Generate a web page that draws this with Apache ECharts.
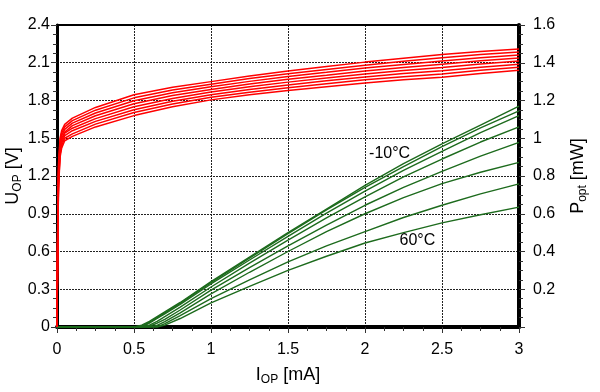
<!DOCTYPE html>
<html><head><meta charset="utf-8">
<script src="https://cdn.jsdelivr.net/npm/echarts@6/dist/echarts.min.js"></script>
<style>html,body{margin:0;padding:0;background:#fff}#c{width:600px;height:392px}</style>
</head><body><div id="c"></div>
<script>
// X values (I_OP, mA) for the red U_OP curves
const I_RED = [0, 0.005, 0.01, 0.02, 0.03, 0.05, 0.1, 0.25, 0.5, 0.75, 1, 1.25, 1.5, 1.75, 2, 2.25, 2.5, 2.75, 3];
// U_OP [V] per temperature (-10..60 °C)
const U_m10 = [0, 0.90, 1.30, 1.50, 1.56, 1.61, 1.66, 1.745, 1.845, 1.905, 1.950, 1.995, 2.035, 2.070, 2.105, 2.135, 2.165, 2.190, 2.210];
const U_0   = [0, 0.87, 1.27, 1.48, 1.54, 1.59, 1.64, 1.723, 1.821, 1.883, 1.929, 1.974, 2.013, 2.047, 2.081, 2.111, 2.139, 2.165, 2.186];
const U_10  = [0, 0.84, 1.24, 1.46, 1.52, 1.57, 1.62, 1.701, 1.798, 1.861, 1.909, 1.952, 1.991, 2.024, 2.058, 2.086, 2.114, 2.140, 2.161];
const U_20  = [0, 0.81, 1.21, 1.44, 1.50, 1.55, 1.60, 1.679, 1.774, 1.839, 1.888, 1.931, 1.969, 2.001, 2.034, 2.062, 2.088, 2.115, 2.137];
const U_30  = [0, 0.79, 1.19, 1.41, 1.48, 1.54, 1.58, 1.656, 1.751, 1.816, 1.867, 1.909, 1.946, 1.979, 2.011, 2.038, 2.062, 2.090, 2.113];
const U_40  = [0, 0.76, 1.16, 1.39, 1.46, 1.52, 1.56, 1.634, 1.727, 1.794, 1.846, 1.888, 1.924, 1.956, 1.987, 2.014, 2.036, 2.065, 2.089];
const U_50  = [0, 0.73, 1.13, 1.37, 1.44, 1.50, 1.535, 1.612, 1.704, 1.772, 1.826, 1.866, 1.902, 1.933, 1.964, 1.989, 2.011, 2.040, 2.064];
const U_60  = [0, 0.70, 1.10, 1.35, 1.42, 1.48, 1.515, 1.590, 1.680, 1.750, 1.805, 1.845, 1.880, 1.910, 1.940, 1.965, 1.985, 2.015, 2.040];

// X values for the green P_opt curves
const I_GRN = [0, 0.5, 0.55, 0.6, 0.65, 0.7, 0.8, 1.0, 1.25, 1.5, 1.75, 2.0, 2.25, 2.5, 2.75, 3.0];
// P_opt [mW] per temperature
const P_m10 = [0, 0, 0.010, 0.030, 0.055, 0.080, 0.130, 0.240, 0.370, 0.500, 0.625, 0.750, 0.865, 0.970, 1.070, 1.170];
const P_0   = [0, 0, 0.005, 0.025, 0.050, 0.075, 0.125, 0.235, 0.365, 0.495, 0.620, 0.740, 0.850, 0.955, 1.055, 1.145];
const P_10  = [0, 0, 0,     0.020, 0.045, 0.070, 0.120, 0.228, 0.355, 0.480, 0.603, 0.720, 0.830, 0.930, 1.030, 1.120];
const P_20  = [0, 0, 0,     0.010, 0.030, 0.055, 0.105, 0.212, 0.338, 0.460, 0.578, 0.690, 0.795, 0.890, 0.980, 1.060];
const P_30  = [0, 0, 0,     0.005, 0.020, 0.040, 0.090, 0.195, 0.315, 0.430, 0.540, 0.645, 0.740, 0.825, 0.905, 0.978];
const P_40  = [0, 0, 0,     0,     0.008, 0.028, 0.075, 0.175, 0.290, 0.400, 0.505, 0.600, 0.685, 0.760, 0.820, 0.872];
const P_50  = [0, 0, 0,     0,     0,     0.018, 0.060, 0.150, 0.250, 0.345, 0.430, 0.505, 0.580, 0.645, 0.705, 0.758];
const P_60  = [0, 0, 0,     0,     0,     0.010, 0.045, 0.128, 0.215, 0.300, 0.375, 0.445, 0.500, 0.552, 0.595, 0.635];

const TEMPS = ['-10', '0', '10', '20', '30', '40', '50', '60'];
const U_CURVES = [U_m10, U_0, U_10, U_20, U_30, U_40, U_50, U_60];
const P_CURVES = [P_m10, P_0, P_10, P_20, P_30, P_40, P_50, P_60];

// annotation labels
const ANNOT = [
  { text: '-10°C', at: [2.16, 0.92] },
  { text: '60°C', at: [2.34, 0.46] }
];

const FONT = '"Liberation Sans", Arial, sans-serif';
const zip = (xs, ys) => xs.map((x, i) => [x, ys[i]]);
const fmt = v => String(+(+v).toFixed(2));

const series = [];
U_CURVES.forEach((u, k) => series.push({
  name: 'U ' + TEMPS[k], type: 'line', xAxisIndex: 0, yAxisIndex: 0, showSymbol: false, symbol: 'none',
  smooth: false,
  lineStyle: { color: '#ff0000', width: 1.5 }, data: zip(I_RED, u), z: 4
}));
P_CURVES.forEach((p, k) => series.push({
  name: 'P ' + TEMPS[k], type: 'line', xAxisIndex: 0, yAxisIndex: 1, showSymbol: false, symbol: 'none',
  smooth: false,
  lineStyle: { color: '#1d6b1d', width: 1.4 }, data: zip(I_GRN, p), z: 3
}));
series.push({
  type: 'scatter', xAxisIndex: 0, yAxisIndex: 1, symbolSize: 0, silent: true,
  itemStyle: { opacity: 1 },
  data: ANNOT.map(a => ({ value: a.at, label: { show: true, formatter: a.text, color: '#000' } })),
  label: { position: 'inside', color: '#000', fontSize: 16, fontFamily: FONT, opacity: 1 },
  z: 5
});

const grid = { left: 57, right: 81, top: 25, bottom: 65, containLabel: false, outerBoundsMode: 'none' };
const splitLine = { show: true, lineStyle: { color: '#222', width: 1, type: [2, 1] } };
const labelStyle = { color: '#000', fontSize: 16, fontFamily: FONT };
const nameRich = {
  a: { fontSize: 18, fontFamily: FONT, color: '#000' },
  b: { fontSize: 12, fontFamily: FONT, color: '#000', padding: [9, 0, 0, 0] }
};
const tick = { show: true, length: 6, lineStyle: { color: '#333' } };
const minor = { show: true, splitNumber: 4, length: 4, lineStyle: { color: '#333' } };

const option = {
  animation: false,
  backgroundColor: '#fff',
  grid,
  xAxis: [{
    type: 'value', min: 0, max: 3, interval: 0.5, position: 'bottom',
    name: '{a|I}{b|OP}{a| [mA]}', nameLocation: 'middle', nameGap: 38,
    nameTextStyle: { rich: nameRich },
    axisLine: { show: true, onZero: false, lineStyle: { color: '#000', width: 4 } },
    axisTick: tick, minorTick: minor,
    splitLine,
    axisLabel: { ...labelStyle, margin: 15, formatter: fmt }
  }, {
    type: 'value', min: 0, max: 3, position: 'top',
    axisLine: { show: true, onZero: false, lineStyle: { color: '#000', width: 2 } },
    axisTick: { show: false }, axisLabel: { show: false }, splitLine: { show: false }
  }],
  yAxis: [{
    type: 'value', min: 0, max: 2.4, interval: 0.3, position: 'left',
    name: '{a|U}{b|OP}{a| [V]}', nameLocation: 'middle', nameGap: 33, nameRotate: 90,
    nameMoveOverlap: false,
    nameTextStyle: { rich: nameRich },
    axisLine: { show: true, onZero: false, lineStyle: { color: '#000', width: 3 } },
    axisTick: tick, minorTick: minor,
    splitLine,
    axisLabel: { ...labelStyle, margin: 7, formatter: fmt }
  }, {
    type: 'value', min: 0, max: 1.6, interval: 0.2, position: 'right',
    name: '{a|P}{b|opt}{a| [mW]}', nameLocation: 'middle', nameGap: 49, nameRotate: 90,
    nameMoveOverlap: false,
    nameTextStyle: { rich: nameRich },
    axisLine: { show: true, onZero: false, lineStyle: { color: '#000', width: 4 } },
    axisTick: tick, minorTick: minor,
    splitLine: { show: false },
    axisLabel: { ...labelStyle, margin: 14, formatter: v => (+v === 0 ? '' : fmt(v)) }
  }],
  series
};
const chart = echarts.init(document.getElementById('c'), null, { renderer: 'canvas' });
chart.setOption(option);
</script></body></html>
